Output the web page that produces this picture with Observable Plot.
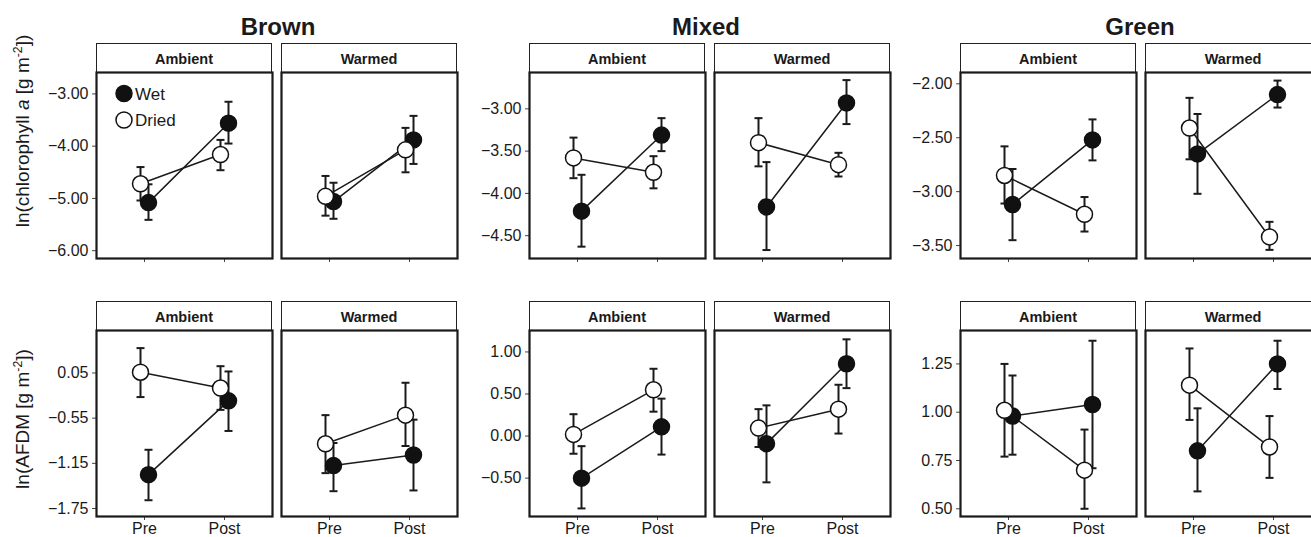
<!DOCTYPE html>
<html><head><meta charset="utf-8">
<script src="https://cdn.jsdelivr.net/npm/d3@7"></script>
<script src="https://cdn.jsdelivr.net/npm/@observablehq/plot@0.6"></script>
<style>
body{margin:0;background:#fff;}
#root{position:relative;width:1311px;height:537px;overflow:hidden;background:#fff;font-family:"Liberation Sans",Arial,Helvetica,sans-serif;color:#1a1a1a;}
.abs{position:absolute;}
.title{font-weight:bold;font-size:24px;line-height:24px;text-align:center;width:200px;margin-left:-100px;}
.strip{box-sizing:border-box;border:1px solid #222;border-bottom:none;font-weight:bold;font-size:14.5px;display:flex;align-items:center;justify-content:center;background:#fff;}
.ytitle{font-size:19px;line-height:22px;white-space:nowrap;transform:translate(-50%,-50%) rotate(-90deg);}
.ytitle sup{font-size:0.65em;vertical-align:0.55em;line-height:0;}
.wrap svg{max-width:none !important;}
</style></head>
<body><div id="root"></div>
<script>
const groups = ["Brown", "Mixed", "Green"];
const treatments = ["Ambient", "Warmed"];
const times = ["Pre", "Post"];
const conditions = ["Wet", "Dried"];

// order of 12 values: Brown-Ambient Pre, Post | Brown-Warmed Pre, Post | Mixed-Ambient ... | Green-Warmed Pre, Post
const chlWetMean  = [-5.08, -3.56, -5.06, -3.88, -4.21, -3.31, -4.16, -2.93, -3.12, -2.52, -2.65, -2.10];
const chlWetHigh  = [-4.73, -3.15, -4.70, -3.42, -3.78, -3.11, -3.63, -2.66, -2.79, -2.33, -2.28, -1.97];
const chlWetLow   = [-5.41, -3.95, -5.39, -4.34, -4.63, -3.50, -4.67, -3.18, -3.45, -2.71, -3.02, -2.22];
const chlDriedMean = [-4.72, -4.16, -4.96, -4.07, -3.58, -3.75, -3.40, -3.66, -2.85, -3.21, -2.41, -3.42];
const chlDriedHigh = [-4.40, -3.88, -4.57, -3.65, -3.34, -3.56, -3.11, -3.52, -2.58, -3.05, -2.13, -3.28];
const chlDriedLow  = [-5.04, -4.46, -5.33, -4.50, -3.82, -3.94, -3.68, -3.80, -3.11, -3.37, -2.70, -3.54];

const afdmWetMean  = [-1.30, -0.32, -1.18, -1.04, -0.50, 0.11, -0.09, 0.86, 0.98, 1.04, 0.80, 1.25];
const afdmWetHigh  = [-0.97, 0.07, -0.88, -0.57, -0.12, 0.445, 0.365, 1.15, 1.19, 1.37, 1.02, 1.37];
const afdmWetLow   = [-1.64, -0.72, -1.52, -1.51, -0.86, -0.22, -0.55, 0.57, 0.78, 0.71, 0.59, 1.12];
const afdmDriedMean = [0.06, -0.15, -0.89, -0.51, 0.02, 0.55, 0.095, 0.32, 1.01, 0.70, 1.14, 0.82];
const afdmDriedHigh = [0.38, 0.14, -0.51, -0.08, 0.26, 0.80, 0.32, 0.61, 1.25, 0.91, 1.33, 0.98];
const afdmDriedLow  = [-0.27, -0.44, -1.28, -0.92, -0.21, 0.29, -0.13, 0.03, 0.77, 0.50, 0.96, 0.66];

const chlTicks  = [[-6, -5, -4, -3], [-4.5, -4, -3.5, -3], [-3.5, -3, -2.5, -2]];
const afdmTicks = [[-1.75, -1.15, -0.55, 0.05], [-0.5, 0, 0.5, 1], [0.5, 0.75, 1, 1.25]];

const measures = [
  {src: {Wet: [chlWetMean, chlWetLow, chlWetHigh], Dried: [chlDriedMean, chlDriedLow, chlDriedHigh]},
   ticks: chlTicks, domains: [[-6.15, -2.59], [-4.77, -2.57], [-3.62, -1.895]]},
  {src: {Wet: [afdmWetMean, afdmWetLow, afdmWetHigh], Dried: [afdmDriedMean, afdmDriedLow, afdmDriedHigh]},
   ticks: afdmTicks, domains: [[-1.856, 0.614], [-0.956, 1.255], [0.46, 1.423]]}
];

function rowsFor(m, gi, ti) {
  const out = [];
  conditions.forEach(c => times.forEach((t, k) => {
    const i = gi * 4 + ti * 2 + k;
    const [mean, lo, hi] = m.src[c];
    out.push({cond: c, time: t, mean: mean[i], lo: lo[i], hi: hi[i]});
  }));
  return out;
}

const capSymbol = {draw(ctx, size) { const w = Math.sqrt(size / Math.PI); ctx.moveTo(-w, 0); ctx.lineTo(w, 0); }};

const root = document.getElementById("root");
const groupLeft = [96, 529, 960];
const groupTitleX = [278, 706, 1140];
const stripTop = [43, 301];
const PW = 176, PH = 186, STRIP = 29, GAP = 185;
const ink = "#1a1a1a";

groups.forEach((g, gi) => {
  const t = document.createElement("div");
  t.className = "abs title";
  t.style.left = groupTitleX[gi] + "px";
  t.style.top = "15px";
  t.textContent = g;
  root.appendChild(t);
});

measures.forEach((m, row) => {
  groups.forEach((g, gi) => {
    treatments.forEach((tr, ti) => {
      const left = groupLeft[gi] + ti * GAP;
      const sTop = stripTop[row];
      const pTop = sTop + STRIP;
      const strip = document.createElement("div");
      strip.className = "abs strip";
      Object.assign(strip.style, {left: left + "px", top: sTop + "px", width: PW + "px", height: (STRIP + 1) + "px"});
      strip.textContent = tr;
      root.appendChild(strip);

      const isA = ti === 0;
      const mL = isA ? 56 : 2, mR = 2, mT = 2, mB = row === 1 ? 24 : 8;
      const data = rowsFor(m, gi, ti);
      const marks = [];
      if (isA) marks.push(Plot.axisY(m.ticks[gi], {tickSize: 4, tickPadding: 4, tickFormat: d3.format(".2f"), fontSize: 16, label: null, stroke: "#444", fill: ink}));
      marks.push(Plot.axisX({tickSize: 4, tickPadding: 2, fontSize: 16, label: null, stroke: "#444", fill: ink,
        tickFormat: row === 1 ? (d => d) : (() => "")}));
      for (const c of conditions) {
        const d = data.filter(r => r.cond === c);
        const dx = c === "Wet" ? 4 : -4;
        marks.push(Plot.line(d, {x: "time", y: "mean", dx, stroke: ink, strokeWidth: 1.5}));
      }
      for (const c of conditions) {
        const d = data.filter(r => r.cond === c);
        const dx = c === "Wet" ? 4 : -4;
        marks.push(Plot.ruleX(d, {x: "time", y1: "lo", y2: "hi", dx, stroke: ink, strokeWidth: 2}));
        marks.push(Plot.dot(d, {x: "time", y: "lo", dx, symbol: capSymbol, r: 4, fill: "none", stroke: ink, strokeWidth: 2}));
        marks.push(Plot.dot(d, {x: "time", y: "hi", dx, symbol: capSymbol, r: 4, fill: "none", stroke: ink, strokeWidth: 2}));
      }
      for (const c of conditions) {
        const d = data.filter(r => r.cond === c);
        const dx = c === "Wet" ? 4 : -4;
        marks.push(Plot.dot(d, {x: "time", y: "mean", dx, r: 8, fill: c === "Wet" ? "#111" : "#fff", stroke: "#111", strokeWidth: 1.5}));
      }
      marks.push(Plot.frame({stroke: ink, strokeWidth: 2.2}));
      const W = PW + mL + mR, H = PH + mT + mB;
      const svg = Plot.plot({
        width: W, height: H,
        marginLeft: mL, marginRight: mR, marginTop: mT, marginBottom: mB,
        style: {fontFamily: '"Liberation Sans", Arial, sans-serif', fontSize: "16px", color: ink, background: "transparent", overflow: "visible"},
        x: {type: "point", domain: times, padding: 0.6, label: null, axis: null},
        y: {domain: m.domains[gi], label: null, axis: null},
        marks
      });
      svg.style.maxWidth = "none";
      const wrap = document.createElement("div");
      wrap.className = "abs wrap";
      wrap.style.left = (left - mL) + "px";
      wrap.style.top = (pTop - mT) + "px";
      wrap.style.width = W + "px";
      wrap.style.height = H + "px";
      wrap.appendChild(svg);
      root.appendChild(wrap);
    });
  });
});

// legend inside Brown / Ambient chlorophyll panel
const legend = document.createElement("div");
legend.className = "abs";
legend.style.left = "112px";
legend.style.top = "80px";
legend.innerHTML = `<svg width="90" height="55" style="overflow:visible">
  <circle cx="12" cy="13.5" r="8" fill="#111" stroke="#111" stroke-width="1.5"/>
  <text x="23" y="20" font-size="17" fill="${ink}" font-family="Liberation Sans, Arial, sans-serif">${conditions[0]}</text>
  <circle cx="12" cy="40" r="8" fill="#fff" stroke="#111" stroke-width="1.5"/>
  <text x="23" y="46" font-size="17" fill="${ink}" font-family="Liberation Sans, Arial, sans-serif">${conditions[1]}</text>
</svg>`;
root.appendChild(legend);

// y axis titles
const yt1 = document.createElement("div");
yt1.className = "abs ytitle";
yt1.style.left = "23px"; yt1.style.top = "131px";
yt1.innerHTML = "ln(chlorophyll <i>a</i> [g m<sup>-2</sup>])";
root.appendChild(yt1);
const yt2 = document.createElement("div");
yt2.className = "abs ytitle";
yt2.style.left = "23px"; yt2.style.top = "419px";
yt2.innerHTML = "ln(AFDM [g m<sup>-2</sup>])";
root.appendChild(yt2);
</script></body></html>
